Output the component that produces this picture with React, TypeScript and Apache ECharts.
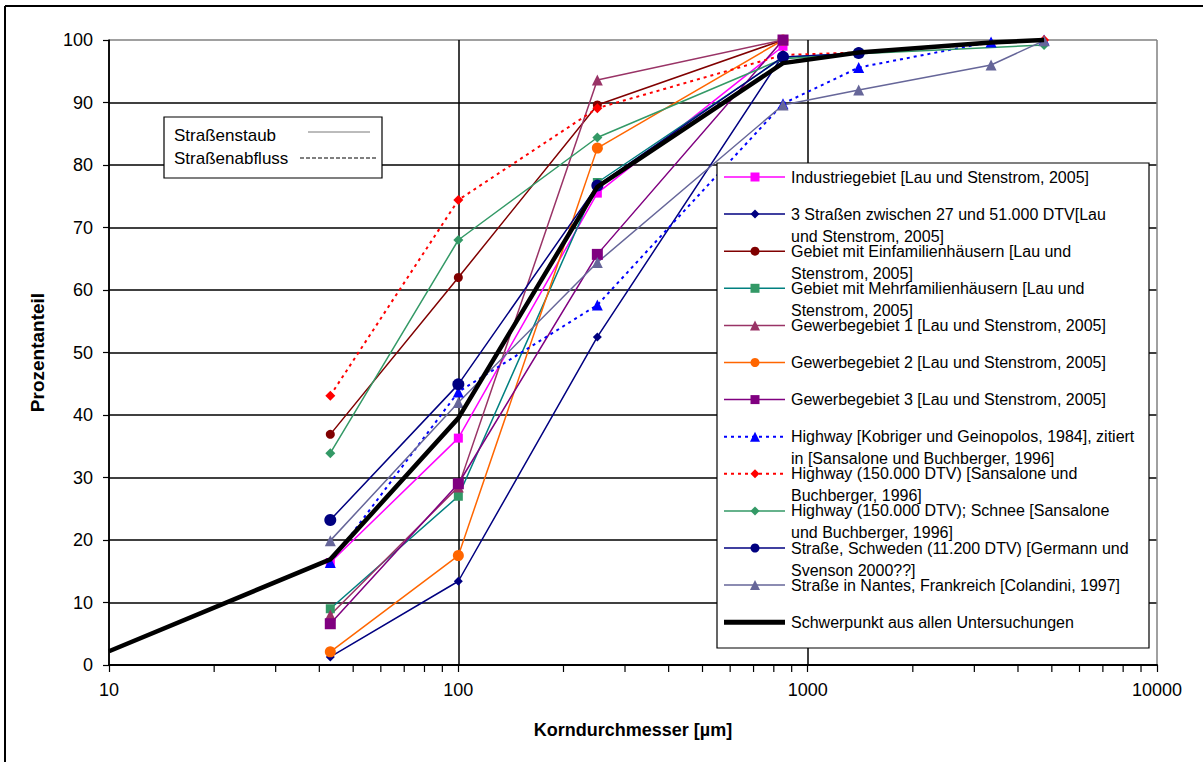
import React, { useEffect, useRef } from "react";
import * as echarts from "echarts";

const FONT = "'Liberation Sans', Arial, sans-serif";

// Sieve sizes (µm) of the individual investigations
const sieveSizes = [43, 100, 250, 850, 1400, 3350, 4750];

// Cumulative passing (%) per investigation, aligned with sieveSizes (null = not measured)
const industriegebiet = [16.4, 36.3, 75.5, 99.0];
const dreiStrassen = [1.3, 13.4, 52.5, 97.6];
const einfamilienhaeuser = [36.9, 62.0, 89.6, 100];
const mehrfamilienhaeuser = [9.0, 27.0, 77.2, 97.2, 97.9];
const gewerbegebiet1 = [8.0, 28.5, 93.6, 100];
const gewerbegebiet2 = [2.1, 17.5, 82.7, 100];
const gewerbegebiet3 = [6.6, 29.0, 65.7, 100];
const highwayKobriger = [16.4, 43.7, 57.6, 89.8, 95.6, 99.7, 100];
const highway150000 = [43.1, 74.4, 89.1, 97.6, 98.0, null, 100];
const highwaySchnee = [33.9, 68.0, 84.4, 97.0, 97.8, null, 99.2];
const strasseSchweden = [23.2, 44.9, 76.7, 97.3, 97.9];
const strasseNantes = [19.9, 42.0, 64.4, 89.6, 92.0, 96.0, 99.9];

// Mean curve over all investigations
const schwerpunktSizes = [10, 43, 100, 250, 850, 1400, 3350, 4750];
const schwerpunkt = [2.2, 16.9, 39.5, 76.5, 96.3, 98.0, 99.6, 100];

// Intermediate logarithmic tick positions on the grain-size axis
const minorTicks = [
  20, 30, 40, 50, 60, 70, 80, 90,
  200, 300, 400, 500, 600, 700, 800, 900,
  2000, 3000, 4000, 5000, 6000, 7000, 8000, 9000,
];

type Def = {
  name: string;
  legend: string;
  sizes: number[];
  values: (number | null)[];
  line: string;
  marker: string;
  symbol: string;
  size: number;
  width: number;
  dashed?: boolean;
};

const defs: Def[] = [
  { name: "Industriegebiet [Lau und Stenstrom, 2005]", legend: "Industriegebiet [Lau und Stenstrom, 2005]", sizes: sieveSizes, values: industriegebiet, line: "#FF00FF", marker: "#FF00FF", symbol: "rect", size: 9, width: 1.5 },
  { name: "3 Straßen zwischen 27 und 51.000 DTV [Lau und Stenstrom, 2005]", legend: "3 Straßen zwischen 27 und 51.000 DTV[Lau\nund Stenstrom, 2005]", sizes: sieveSizes, values: dreiStrassen, line: "#000080", marker: "#000080", symbol: "diamond", size: 9, width: 1.5 },
  { name: "Gebiet mit Einfamilienhäusern [Lau und Stenstrom, 2005]", legend: "Gebiet mit Einfamilienhäusern [Lau und\nStenstrom, 2005]", sizes: sieveSizes, values: einfamilienhaeuser, line: "#800000", marker: "#800000", symbol: "circle", size: 9, width: 1.5 },
  { name: "Gebiet mit Mehrfamilienhäusern [Lau und Stenstrom, 2005]", legend: "Gebiet mit Mehrfamilienhäusern [Lau und\nStenstrom, 2005]", sizes: sieveSizes, values: mehrfamilienhaeuser, line: "#008080", marker: "#339966", symbol: "rect", size: 9, width: 1.5 },
  { name: "Gewerbegebiet 1 [Lau und Stenstrom, 2005]", legend: "Gewerbegebiet 1 [Lau und Stenstrom, 2005]", sizes: sieveSizes, values: gewerbegebiet1, line: "#993366", marker: "#993366", symbol: "triangle", size: 11, width: 1.5 },
  { name: "Gewerbegebiet 2 [Lau und Stenstrom, 2005]", legend: "Gewerbegebiet 2 [Lau und Stenstrom, 2005]", sizes: sieveSizes, values: gewerbegebiet2, line: "#FF6600", marker: "#FF6600", symbol: "circle", size: 11, width: 1.5 },
  { name: "Gewerbegebiet 3 [Lau und Stenstrom, 2005]", legend: "Gewerbegebiet 3 [Lau und Stenstrom, 2005]", sizes: sieveSizes, values: gewerbegebiet3, line: "#800080", marker: "#800080", symbol: "rect", size: 11, width: 1.5 },
  { name: "Highway [Kobriger und Geinopolos, 1984], zitiert in [Sansalone und Buchberger, 1996]", legend: "Highway [Kobriger und Geinopolos, 1984], zitiert\nin [Sansalone und Buchberger, 1996]", sizes: sieveSizes, values: highwayKobriger, line: "#0000FF", marker: "#0000FF", symbol: "triangle", size: 11, width: 2, dashed: true },
  { name: "Highway (150.000 DTV) [Sansalone und Buchberger, 1996]", legend: "Highway (150.000 DTV) [Sansalone und\nBuchberger, 1996]", sizes: sieveSizes, values: highway150000, line: "#FF0000", marker: "#FF0000", symbol: "diamond", size: 10, width: 2, dashed: true },
  { name: "Highway (150.000 DTV); Schnee [Sansalone und Buchberger, 1996]", legend: "Highway (150.000 DTV); Schnee [Sansalone\nund Buchberger, 1996]", sizes: sieveSizes, values: highwaySchnee, line: "#339966", marker: "#339966", symbol: "diamond", size: 10, width: 1.5 },
  { name: "Straße, Schweden (11.200 DTV) [Germann und Svenson 2000??]", legend: "Straße, Schweden (11.200 DTV) [Germann und\nSvenson 2000??]", sizes: sieveSizes, values: strasseSchweden, line: "#000080", marker: "#000080", symbol: "circle", size: 12, width: 1.5 },
  { name: "Straße in Nantes, Frankreich [Colandini, 1997]", legend: "Straße in Nantes, Frankreich [Colandini, 1997]", sizes: sieveSizes, values: strasseNantes, line: "#666699", marker: "#666699", symbol: "triangle", size: 11, width: 1.5 },
  { name: "Schwerpunkt aus allen Untersuchungen", legend: "Schwerpunkt aus allen Untersuchungen", sizes: schwerpunktSizes, values: schwerpunkt, line: "#000000", marker: "#000000", symbol: "none", size: 0, width: 4.5 },
];

function pairs(sizes: number[], values: (number | null)[]) {
  const out: number[][] = [];
  values.forEach((v, i) => {
    if (v !== null && v !== undefined) out.push([sizes[i], v]);
  });
  return out;
}

function legendMarker(symbol: string, cx: number, cy: number, s: number, color: string): any {
  const h = s / 2;
  if (symbol === "rect") return { type: "rect", shape: { x: cx - h, y: cy - h, width: s, height: s }, style: { fill: color } };
  if (symbol === "circle") return { type: "circle", shape: { cx, cy, r: h }, style: { fill: color } };
  if (symbol === "triangle")
    return { type: "polygon", shape: { points: [[cx, cy - h], [cx + h, cy + h], [cx - h, cy + h]] }, style: { fill: color } };
  if (symbol === "diamond")
    return { type: "polygon", shape: { points: [[cx, cy - h], [cx + h, cy], [cx, cy + h], [cx - h, cy]] }, style: { fill: color } };
  return null;
}

function buildGraphics() {
  const els: any[] = [];
  // outer frame (left and top edges)
  els.push({ type: "line", shape: { x1: 5, y1: 6, x2: 5, y2: 762 }, style: { stroke: "#000", lineWidth: 2 } });
  els.push({ type: "line", shape: { x1: 5, y1: 6, x2: 1203, y2: 6 }, style: { stroke: "#000", lineWidth: 2 } });

  // box explaining the line styles
  els.push({ type: "rect", shape: { x: 164, y: 117, width: 218, height: 61 }, style: { fill: "#fff", stroke: "#000", lineWidth: 1.2 }, z: 100 });
  els.push({ type: "text", x: 174, y: 135, style: { text: "Straßenstaub", fontFamily: FONT, fontSize: 17, fill: "#000", verticalAlign: "middle" }, z: 101 });
  els.push({ type: "text", x: 174, y: 158, style: { text: "Straßenabfluss", fontFamily: FONT, fontSize: 17, fill: "#000", verticalAlign: "middle" }, z: 101 });
  els.push({ type: "line", shape: { x1: 308, y1: 132, x2: 370, y2: 132 }, style: { stroke: "#555", lineWidth: 0.8 }, z: 101 });
  els.push({ type: "line", shape: { x1: 300, y1: 158, x2: 378, y2: 158 }, style: { stroke: "#000", lineWidth: 1.2, lineDash: [4, 2] }, z: 101 });

  // series legend
  const lx = 717, ly = 163, lw = 432, lh = 485;
  els.push({ type: "rect", shape: { x: lx, y: ly, width: lw, height: lh }, style: { fill: "#fff", stroke: "#000", lineWidth: 1.2 }, z: 100 });
  defs.forEach((d, i) => {
    const ry = 177 + i * 37.1;
    els.push({
      type: "line",
      shape: { x1: 724, y1: ry, x2: 785, y2: ry },
      style: { stroke: d.line, lineWidth: d.width === 4.5 ? 5 : d.width, lineDash: d.dashed ? [3, 4] : null },
      z: 101,
    });
    const m = legendMarker(d.symbol, 755, ry, d.symbol === "triangle" ? 10 : 9, d.marker);
    if (m) els.push({ ...m, z: 102 });
    els.push({
      type: "text",
      x: 791,
      y: ry - 11,
      style: { text: d.legend, fontFamily: FONT, fontSize: 16, fill: "#000", lineHeight: 22, verticalAlign: "top" },
      z: 102,
    });
  });
  return els;
}

export default function App() {
  const ref = useRef<HTMLDivElement>(null);

  useEffect(() => {
    if (!ref.current) return;
    const chart = echarts.init(ref.current, null, { renderer: "svg" });

    const series: any[] = defs.map((d) => ({
      name: d.name,
      type: "line",
      data: pairs(d.sizes, d.values),
      symbol: d.symbol,
      symbolSize: d.size,
      showSymbol: d.symbol !== "none",
      lineStyle: { color: d.line, width: d.width, type: d.dashed ? [3, 4] : "solid" },
      itemStyle: { color: d.marker, borderWidth: 0 },
      clip: false,
      z: d.width > 3 ? 4 : 3,
    }));

    // short downward ticks at 20..90, 200..900, 2000..9000
    series.push({
      name: "minor ticks",
      type: "custom",
      data: minorTicks.map((v) => [v, 0]),
      renderItem: (_params: any, api: any) => {
        const p = api.coord([api.value(0), api.value(1)]);
        return {
          type: "line",
          shape: { x1: p[0], y1: p[1], x2: p[0], y2: p[1] + 7 },
          style: { stroke: "#000", lineWidth: 1.2 },
        };
      },
      silent: true,
      clip: false,
      z: 5,
    });

    chart.setOption({
      animation: false,
      backgroundColor: "#fff",
      textStyle: { fontFamily: FONT },
      grid: { left: 109, top: 40, right: 46, bottom: 97, containLabel: false },
      xAxis: {
        type: "log",
        logBase: 10,
        min: 10,
        max: 10000,
        name: "Korndurchmesser [µm]",
        nameLocation: "middle",
        nameGap: 56,
        nameTextStyle: { fontFamily: FONT, fontSize: 18, fontWeight: "bold", color: "#000" },
        axisLine: { onZero: false, lineStyle: { color: "#000", width: 2 } },
        axisTick: { show: true, inside: false, length: 7, lineStyle: { color: "#000", width: 1.2 } },
        axisLabel: { fontFamily: FONT, fontSize: 18, color: "#000", margin: 16, formatter: (v: number) => String(Math.round(v)) },
        splitLine: { show: true, lineStyle: { color: ["#000", "#000", "#000", "#808080"], width: 1.5 } },
        minorTick: { show: false },
      },
      yAxis: {
        type: "value",
        min: 0,
        max: 100,
        interval: 10,
        name: "Prozentanteil",
        nameLocation: "middle",
        nameGap: 62,
        nameTextStyle: { fontFamily: FONT, fontSize: 19, fontWeight: "bold", color: "#000" },
        axisLine: { show: true, lineStyle: { color: "#000", width: 1.5 } },
        axisTick: { show: true, inside: false, length: 6, lineStyle: { color: "#000", width: 1.2 } },
        axisLabel: { fontFamily: FONT, fontSize: 18, color: "#000", margin: 16 },
        splitLine: {
          show: true,
          lineStyle: {
            color: ["#000", "#000", "#000", "#000", "#000", "#000", "#000", "#000", "#000", "#000", "#808080"],
            width: 1.5,
          },
        },
      },
      series,
      graphic: buildGraphics(),
    });

    return () => chart.dispose();
  }, []);

  return (
    <div
      ref={ref}
      style={{ position: "fixed", left: 0, top: 0, width: 1203, height: 762, background: "#fff" }}
    />
  );
}
